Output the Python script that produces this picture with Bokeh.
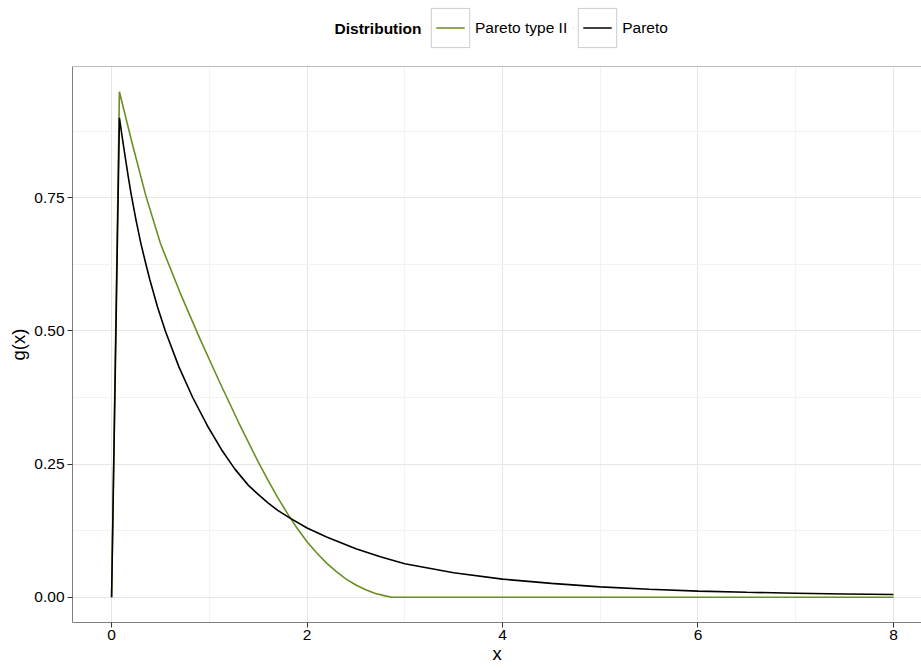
from bokeh.plotting import figure
from bokeh.layouts import column
from bokeh.models import (Range1d, FixedTicker, Legend, LegendItem, Span,
                          ColumnDataSource, Label)
from bokeh.embed import file_html
from bokeh.resources import INLINE

# ---- data ----
series_names = ["Pareto type II", "Pareto"]
legend_title = "Distribution"

x_type2 = [0.0, 0.08, 0.2, 0.35, 0.5, 0.7, 0.9, 1.1, 1.3, 1.5, 1.6, 1.7,
           1.8, 1.9, 2.0, 2.1, 2.2, 2.3, 2.4, 2.5, 2.6, 2.7, 2.8, 2.87,
           4.0, 6.0, 8.0]
g_type2 = [0.0, 0.949, 0.86, 0.754, 0.664, 0.572, 0.487, 0.406, 0.328,
           0.254, 0.220, 0.187, 0.157, 0.129, 0.104, 0.083, 0.064, 0.048,
           0.034, 0.023, 0.014, 0.007, 0.0025, 0.0, 0.0, 0.0, 0.0]

x_pareto = [0.0, 0.08, 0.11, 0.14, 0.17, 0.2, 0.25, 0.3, 0.35, 0.39, 0.47,
            0.55, 0.69, 0.83, 0.98, 1.125, 1.26, 1.4, 1.5, 1.6, 1.7, 1.83,
            2.0, 2.2, 2.5, 2.75, 3.0, 3.5, 4.0, 4.5, 5.0, 5.5, 6.0, 6.5,
            7.0, 7.5, 8.0]
g_pareto = [0.0, 0.90, 0.862, 0.826, 0.79, 0.757, 0.708, 0.664, 0.626,
            0.597, 0.545, 0.50, 0.432, 0.375, 0.322, 0.277, 0.241, 0.21,
            0.193, 0.177, 0.163, 0.148, 0.13, 0.113, 0.091, 0.076, 0.063,
            0.046, 0.034, 0.026, 0.0195, 0.015, 0.0115, 0.0093, 0.0076,
            0.0062, 0.005]

x_ticks = [0, 2, 4, 6, 8]
x_minor = [1, 3, 5, 7]
y_ticks = [0.0, 0.25, 0.5, 0.75]
y_minor = [0.125, 0.375, 0.625, 0.875]
y_tick_labels = ["0.00", "0.25", "0.50", "0.75"]

# ---- styling / layout ----
FONT = "Liberation Sans"
GREEN = "#6B8E23"
BORDER = "#7F7F7F"

W, H = 921, 668
LEG_H = 58                 # strip that holds the legend
LEFT, TOP, BOTTOM = 72, 8, 46

x_lo = min(x_type2 + x_pareto)
x_hi = max(x_type2 + x_pareto)
y_lo = 0.0
y_hi = max(g_type2 + g_pareto)
xpad = 0.05 * (x_hi - x_lo)
ypad = 0.05 * (y_hi - y_lo)
x_start, x_end = x_lo - xpad, x_hi + xpad - 0.113  # panel runs past the window edge
y_start, y_end = y_lo - ypad, y_hi + ypad

# ---------------- main plot ----------------
p = figure(width=W, height=H - LEG_H, output_backend="svg",
           toolbar_location=None,
           x_range=Range1d(x_start, x_end), y_range=Range1d(y_start, y_end),
           min_border_left=LEFT, min_border_right=0, min_border_top=TOP,
           min_border_bottom=BOTTOM, outline_line_color=None,
           background_fill_color="white", border_fill_color="white")

p.line(x_type2, g_type2, line_color=GREEN, line_width=1.6)
p.line(x_pareto, g_pareto, line_color="black", line_width=1.6)

p.xaxis.ticker = FixedTicker(ticks=x_ticks, minor_ticks=x_minor)
p.yaxis.ticker = FixedTicker(ticks=y_ticks, minor_ticks=y_minor)
p.yaxis.major_label_overrides = dict(zip(y_ticks, y_tick_labels))
for ax in (p.xaxis, p.yaxis):
    ax.axis_line_color = BORDER
    ax.axis_line_width = 1
    ax.major_tick_line_color = "#333333"
    ax.major_tick_in = 0
    ax.major_tick_out = 5
    ax.minor_tick_line_color = None
    ax.major_label_text_font = FONT
    ax.major_label_text_font_size = "15.5px"
    ax.major_label_text_color = "black"
    ax.major_label_standoff = 3
    ax.axis_label_text_font = FONT
    ax.axis_label_text_font_size = "18.5px"
    ax.axis_label_text_font_style = "normal"
    ax.axis_label_text_color = "black"
    ax.axis_label_standoff = 2
p.xaxis.major_label_standoff = 2
p.xaxis.axis_label_standoff = 0
p.xaxis.axis_label = "x"
p.yaxis.axis_label = "g(x)"

for g in (p.xgrid, p.ygrid):
    g.grid_line_color = "#E6E6E6"
    g.grid_line_width = 1
    g.minor_grid_line_color = "#F3F3F3"
    g.minor_grid_line_width = 1

p.add_layout(Span(location=y_end, dimension="width", line_color=BORDER,
                  line_width=1))

# ---------------- legend strip ----------------
# its frame lines up with the main frame (LEFT .. W), so x units = page px
top = figure(width=W, height=LEG_H, output_backend="svg",
             toolbar_location=None, x_range=Range1d(LEFT, W),
             y_range=Range1d(0, LEG_H), x_axis_type=None, y_axis_type=None,
             min_border_left=LEFT, min_border_right=0, min_border_top=0,
             min_border_bottom=0, outline_line_color=None,
             background_fill_color="white", border_fill_color="white")
top.xgrid.visible = False
top.ygrid.visible = False

# hidden proxy renderers, drawn only as legend keys
proxy = ColumnDataSource(dict(x=[x_lo], y=[y_lo]))
k_t2 = top.line(x="x", y="y", source=proxy, line_color=GREEN,
                line_width=1.6, visible=False)
k_p = top.line(x="x", y="y", source=proxy, line_color="black",
               line_width=1.6, visible=False)
cover = top.rect(x="x", y="y", width=0, height=0, source=proxy,
                 fill_color=None, line_color="white", line_width=10,
                 visible=False)
keybox = top.rect(x="x", y="y", width=0, height=0, source=proxy,
                  fill_color=None, line_color="#CCCCCC", line_width=1,
                  visible=False)

GLYPH_H = 49
legend = Legend(items=[
    LegendItem(label=series_names[0], renderers=[k_t2, cover, keybox]),
    LegendItem(label=series_names[1], renderers=[k_p, cover, keybox]),
], orientation="horizontal", location=(426 - LEFT, LEG_H - 3 - GLYPH_H),
   glyph_width=48, glyph_height=GLYPH_H, label_standoff=1, spacing=6,
   padding=0, margin=0, border_line_color=None,
   background_fill_alpha=0.0, inactive_fill_alpha=0.0,
   label_text_font=FONT, label_text_font_size="15.5px",
   label_text_color="black")
top.add_layout(legend, "center")

top.add_layout(Label(x=421, y=LEG_H - 27.5, text=legend_title,
                     text_font=FONT, text_font_size="15.5px",
                     text_font_style="bold", text_align="right",
                     text_baseline="middle", text_color="black"))

page = column(top, p, spacing=0)
open("out.html", "w").write(file_html(page, INLINE))
